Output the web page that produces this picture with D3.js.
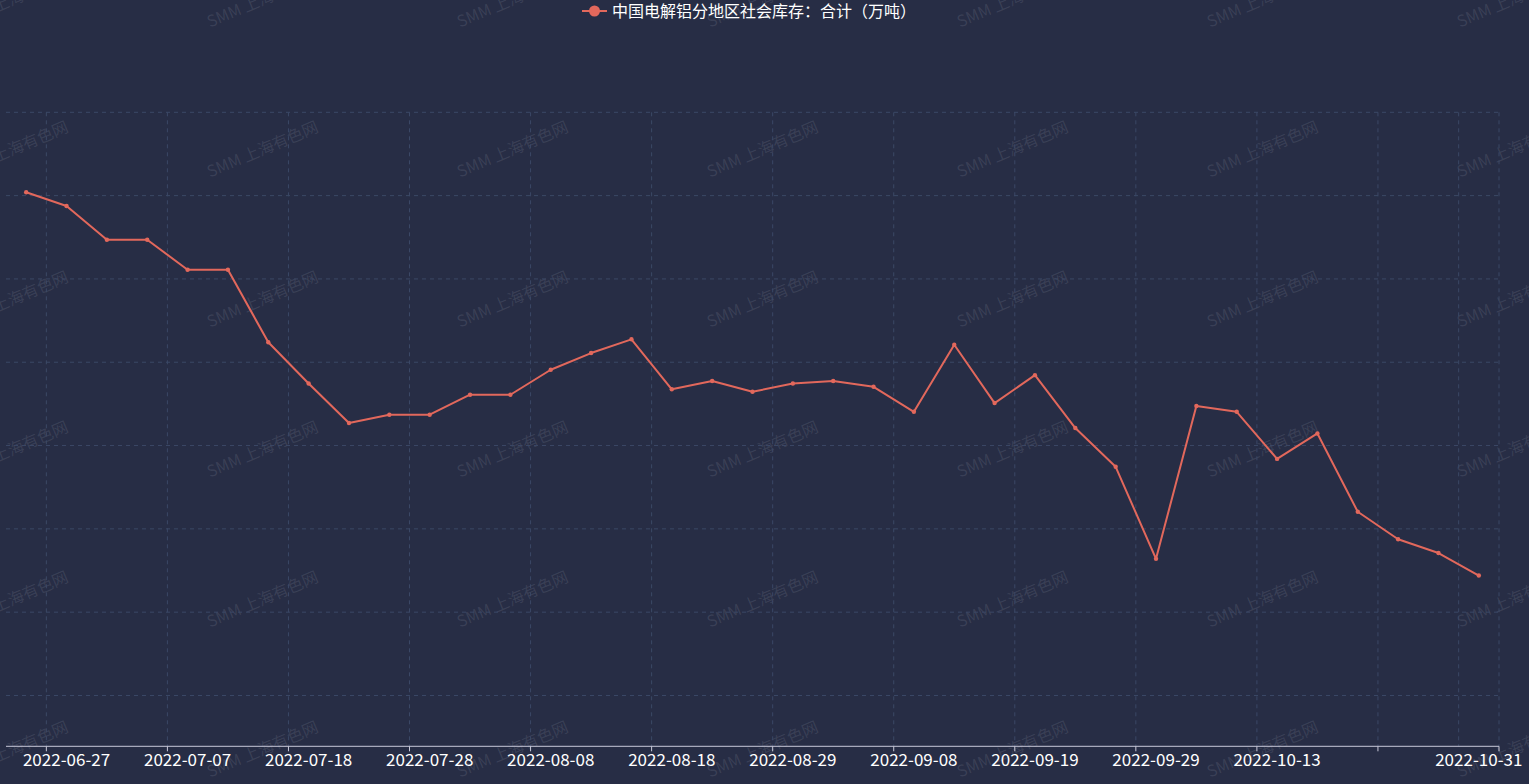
<!DOCTYPE html>
<html>
<head>
<meta charset="utf-8">
<script src="https://cdn.jsdelivr.net/npm/d3@7/dist/d3.min.js"></script>
<style>
  html, body { margin: 0; padding: 0; background: #272d45; overflow: hidden; }
  svg { display: block; }
</style>
</head>
<body>
<div id="chart"></div>
<script>
/*
 * 中国电解铝分地区社会库存：合计（万吨）
 */

var width = 1529;
var height = 784;

// 日期（类目轴）
var dates = [
  '2022-06-23', '2022-06-27', '2022-06-30', '2022-07-04', '2022-07-07', '2022-07-11',
  '2022-07-14', '2022-07-18', '2022-07-21', '2022-07-25', '2022-07-28', '2022-08-01',
  '2022-08-04', '2022-08-08', '2022-08-11', '2022-08-15', '2022-08-18', '2022-08-22',
  '2022-08-25', '2022-08-29', '2022-09-01', '2022-09-05', '2022-09-08', '2022-09-13',
  '2022-09-15', '2022-09-19', '2022-09-22', '2022-09-26', '2022-09-29', '2022-10-08',
  '2022-10-10', '2022-10-13', '2022-10-17', '2022-10-20', '2022-10-24', '2022-10-27',
  '2022-10-31'
];

// 库存（万吨）
var stock = [
  74.08, 73.75, 72.94, 72.94, 72.22, 72.22,
  70.48, 69.49, 68.54, 68.74, 68.74, 69.22,
  69.22, 69.82, 70.22, 70.55, 69.35, 69.55,
  69.29, 69.49, 69.55, 69.41, 68.81, 70.42,
  69.02, 69.69, 68.42, 67.49, 65.28, 68.95,
  68.81, 67.68, 68.29, 66.41, 65.75, 65.42,
  64.88
];

// 显示标签的日期
var labelDates = [
  '2022-06-27', '2022-07-07', '2022-07-18', '2022-07-28', '2022-08-08', '2022-08-18',
  '2022-08-29', '2022-09-08', '2022-09-19', '2022-09-29', '2022-10-13', '2022-10-31'
];

// 刻度线所在日期（类目起点）
var tickDates = [
  '2022-06-27', '2022-07-07', '2022-07-18', '2022-07-28', '2022-08-08', '2022-08-18',
  '2022-08-29', '2022-09-08', '2022-09-19', '2022-09-29', '2022-10-13', '2022-10-24'
];

// 竖向分隔线（多一条最后类目）
var splitDates = tickDates.concat(['2022-10-31']);

var yTicks = [62, 64, 66, 68, 70, 72, 74, 76];
var yDomain = [60.78, 76];

var seriesName = '中国电解铝分地区社会库存：合计（万吨）';
var watermark = 'SMM 上海有色网';

var lineColor = '#e2685c';
var gridColor = '#3b4866';
var font = '"Noto Sans CJK SC", "Microsoft YaHei", sans-serif';

var grid = { left: 6, right: 1499, top: 112.3, bottom: 746.3 };

var svg = d3.select('#chart')
  .append('svg')
  .attr('width', width)
  .attr('height', height)

svg.append('rect')
  .attr('width', width)
  .attr('height', height)
  .attr('fill', '#272d45')

var x = d3.scaleBand()
  .domain(dates)
  .range([grid.left, grid.right])
  .padding(0)

var y = d3.scaleLinear()
  .domain(yDomain)
  .range([grid.bottom, grid.top])

var bw = x.bandwidth();

// 水印
var wmG = svg.append('g')
var wmCols = d3.range(-1, 7).map(i => 12 + i * 250);
var wmRows = d3.range(0, 6).map(i => -2 + i * 150);
wmRows.forEach(ry => {
  wmCols.forEach(cx => {
    wmG.append('text')
      .attr('transform', 'translate(' + cx + ',' + ry + ') rotate(-23)')
      .attr('text-anchor', 'middle')
      .attr('dominant-baseline', 'central')
      .attr('font-family', font)
      .attr('font-size', 16)
      .attr('fill', 'rgba(160,165,180,0.17)')
      .text(watermark)
  })
})

// 横向网格
svg.append('g')
  .selectAll('line')
  .data(yTicks)
  .enter()
  .append('line')
  .attr('x1', grid.left)
  .attr('x2', grid.right)
  .attr('y1', d => y(d))
  .attr('y2', d => y(d))
  .attr('stroke', gridColor)
  .attr('stroke-dasharray', '4,4')

// 竖向网格
svg.append('g')
  .selectAll('line')
  .data(splitDates.map(d => x(d)).concat([grid.right]))
  .enter()
  .append('line')
  .attr('x1', d => d)
  .attr('x2', d => d)
  .attr('y1', grid.top)
  .attr('y2', grid.bottom)
  .attr('stroke', gridColor)
  .attr('stroke-dasharray', '4,4')

// x 轴线和刻度
var axisG = svg.append('g')
axisG.append('line')
  .attr('x1', grid.left)
  .attr('x2', grid.right)
  .attr('y1', grid.bottom)
  .attr('y2', grid.bottom)
  .attr('stroke', '#c9c9d9')

axisG.selectAll('.tick-mark')
  .data(tickDates.map(d => x(d)).concat([grid.right]))
  .enter()
  .append('line')
  .attr('class', 'tick-mark')
  .attr('x1', d => d)
  .attr('x2', d => d)
  .attr('y1', grid.bottom)
  .attr('y2', grid.bottom + 5)
  .attr('stroke', '#c9c9d9')

// 标签居中于类目
var labelAxis = d3.axisBottom(x)
  .tickValues(labelDates)
  .tickSize(0)
  .tickPadding(0)

var labelG = svg.append('g')
  .attr('transform', 'translate(0,' + grid.bottom + ')')
  .call(labelAxis)

labelG.select('.domain').remove()
labelG.selectAll('text')
  .attr('y', 20)
  .attr('dy', 0)
  .attr('fill', '#ffffff')
  .attr('font-size', 17)
  .attr('font-family', font)

// 折线
var line = d3.line()
  .x((d, i) => x(dates[i]) + bw / 2)
  .y(d => y(d))

svg.append('path')
  .datum(stock)
  .attr('d', line)
  .attr('fill', 'none')
  .attr('stroke', lineColor)
  .attr('stroke-width', 2)
  .attr('stroke-linejoin', 'round')

svg.append('g')
  .selectAll('circle')
  .data(stock)
  .enter()
  .append('circle')
  .attr('cx', (d, i) => x(dates[i]) + bw / 2)
  .attr('cy', d => y(d))
  .attr('r', 2.2)
  .attr('fill', lineColor)

// 图例
var legend = svg.append('g')
legend.append('line')
  .attr('x1', 582)
  .attr('x2', 607)
  .attr('y1', 11)
  .attr('y2', 11)
  .attr('stroke', lineColor)
  .attr('stroke-width', 2)
legend.append('circle')
  .attr('cx', 594.5)
  .attr('cy', 11)
  .attr('r', 5.5)
  .attr('fill', lineColor)
legend.append('text')
  .attr('x', 612)
  .attr('y', 17)
  .attr('fill', '#ffffff')
  .attr('font-size', 16)
  .attr('font-family', font)
  .text(seriesName)
</script>
</body>
</html>
